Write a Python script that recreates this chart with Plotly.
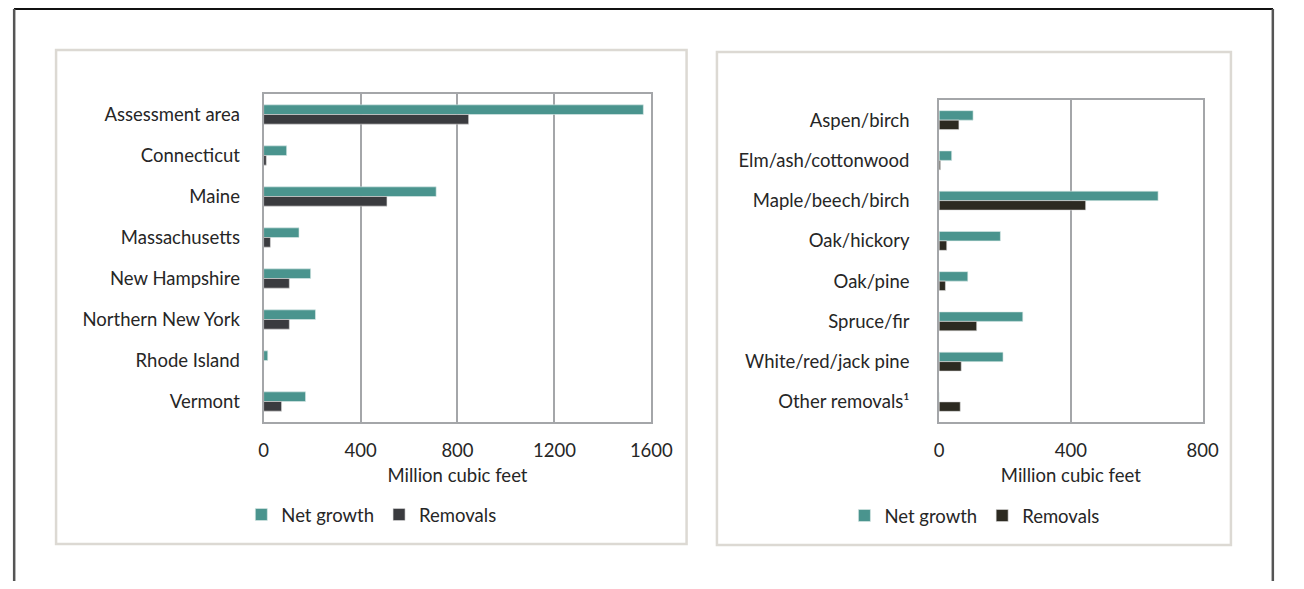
import plotly.graph_objects as go

# the page body keeps its default 8px margin, so the figure is 16px smaller
# than the window and every reference pixel is shifted by OFF
OFF = 8
W, H = 1304 - 2 * OFF, 589 - 2 * OFF

regions = ["Assessment area", "Connecticut", "Maine", "Massachusetts",
           "New Hampshire", "Northern New York", "Rhode Island", "Vermont"]
region_growth = [1567, 95, 712, 146, 194, 214, 17, 173]
region_removals = [846, 11, 509, 28, 106, 106, 0, 74]

forest_types = ["Aspen/birch", "Elm/ash/cottonwood", "Maple/beech/birch", "Oak/hickory",
                "Oak/pine", "Spruce/fir", "White/red/jack pine", "Other removals¹"]
type_growth = [103, 38, 665, 186, 87, 254, 194, 0]
type_removals = [60, 4, 445, 23, 19, 114, 67, 64]

TEAL = "#4A948E"
DARK_LEFT = "#3A3B3F"
DARK_RIGHT = "#2C2A21"
GRID = "#A4A6A9"
FONT = "Lato"
FS = 18.5
TXT = "#262626"


def px(x):
    return (x - OFF) / W


def py(y):
    return 1 - (y - OFF) / H


fig = go.Figure()

fig.add_trace(go.Bar(y=regions, x=region_growth, orientation="h", name="Net growth",
                     marker=dict(color=TEAL, line=dict(color="#DDEBEA", width=0.6)),
                     xaxis="x", yaxis="y", legend="legend"))
fig.add_trace(go.Bar(y=regions, x=region_removals, orientation="h", name="Removals",
                     marker=dict(color=DARK_LEFT, line=dict(color="#DDDDDD", width=0.6)),
                     xaxis="x", yaxis="y", legend="legend"))
fig.add_trace(go.Bar(y=forest_types, x=type_growth, orientation="h", name="Net growth",
                     marker=dict(color=TEAL, line=dict(color="#DDEBEA", width=0.6)),
                     xaxis="x2", yaxis="y2", legend="legend2"))
fig.add_trace(go.Bar(y=forest_types, x=type_removals, orientation="h", name="Removals",
                     marker=dict(color=DARK_RIGHT, line=dict(color="#DDDDDD", width=0.6)),
                     xaxis="x2", yaxis="y2", legend="legend2"))

tickfont = dict(size=FS, color=TXT, family=FONT)
xcommon = dict(showgrid=True, gridcolor=GRID, gridwidth=2, zeroline=False,
               showline=True, linecolor=GRID, linewidth=2, mirror=True,
               ticks="", tickfont=tickfont, ticklabelstandoff=11, fixedrange=True)
ycommon = dict(autorange="reversed", showgrid=False, zeroline=False,
               showline=True, linecolor=GRID, linewidth=2, mirror=True,
               ticks="", tickfont=tickfont, fixedrange=True)
legfont = dict(size=FS, color=TXT, family=FONT)

fig.update_layout(
    width=W, height=H,
    margin=dict(l=0, r=0, t=0, b=0),
    paper_bgcolor="white", plot_bgcolor="white",
    font=dict(family=FONT, size=FS, color=TXT),
    barmode="group", bargap=0.53, bargroupgap=0,
    showlegend=True,
    xaxis=dict(xcommon, domain=[px(264), px(660)], range=[0, 1600], dtick=400,
               anchor="y",
               title=dict(text="Million cubic feet", standoff=9, font=tickfont)),
    yaxis=dict(ycommon, domain=[py(422), py(94)], anchor="x", ticklabelstandoff=18),
    xaxis2=dict(xcommon, domain=[px(954), px(1223)], range=[0, 800], dtick=400,
                anchor="y2",
                title=dict(text="Million cubic feet", standoff=9, font=tickfont)),
    yaxis2=dict(ycommon, domain=[py(422), py(100)], anchor="x2", ticklabelstandoff=24),
    legend=dict(orientation="h", x=px(374), xanchor="center", y=py(515), yanchor="middle",
                font=legfont, bgcolor="rgba(0,0,0,0)",
                itemclick=False, itemdoubleclick=False),
    legend2=dict(orientation="h", x=px(990), xanchor="center", y=py(516), yanchor="middle",
                 font=legfont, bgcolor="rgba(0,0,0,0)",
                 itemclick=False, itemdoubleclick=False),
)

# panel frames
fig.add_shape(type="rect", xref="paper", yref="paper",
              x0=px(52), x1=px(696), y0=py(544), y1=py(50),
              line=dict(color="#DCD9D3", width=2.5), layer="below")
fig.add_shape(type="rect", xref="paper", yref="paper",
              x0=px(727), x1=px(1252), y0=py(545), y1=py(52),
              line=dict(color="#DCD9D3", width=2.5), layer="below")

# outer border (open at the bottom), as close to the window edge as the figure allows
fig.add_shape(type="line", xref="paper", yref="paper",
              x0=px(9), x1=px(1295), y0=py(9), y1=py(9),
              line=dict(color="#111111", width=2))
fig.add_shape(type="line", xref="paper", yref="paper",
              x0=px(9.2), x1=px(9.2), y0=py(9), y1=0,
              line=dict(color="#555555", width=2.5))
fig.add_shape(type="line", xref="paper", yref="paper",
              x0=px(1294.8), x1=px(1294.8), y0=py(9), y1=0,
              line=dict(color="#555555", width=2.5))

fig.write_html("out.html")
